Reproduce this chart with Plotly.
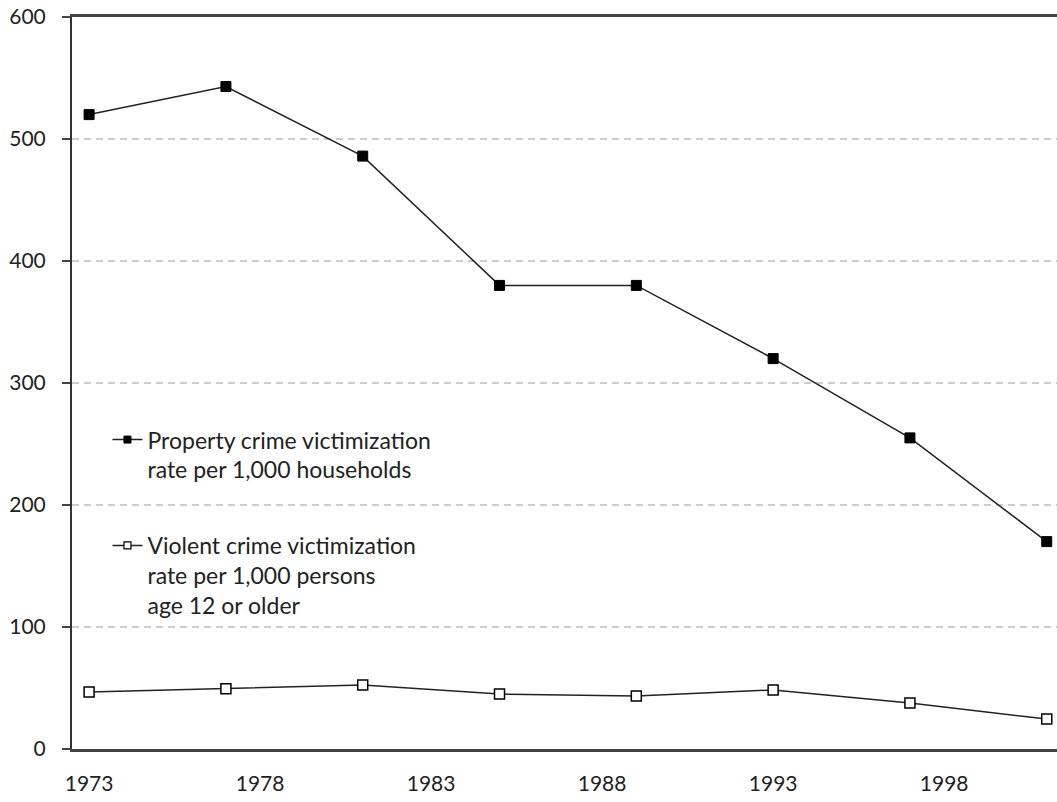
import plotly.graph_objects as go

years = [1973, 1977, 1981, 1985, 1989, 1993, 1997, 2001]
property_rate = [520, 543, 486, 380, 380, 320, 255, 170]
violent_rate = [46.7, 49.4, 52.5, 45, 43.4, 48.4, 37.7, 24.6]
tick_years = [1973, 1978, 1983, 1988, 1993, 1998]
y_ticks = [0, 100, 200, 300, 400, 500, 600]

property_name = "Property crime victimization<br>rate per 1,000 households"
violent_name = "Violent crime victimization<br>rate per 1,000 persons<br>age 12 or older"

FONT = "Lato"
LINE = dict(color="#222222", width=1.5)

fig = go.Figure()
fig.add_trace(go.Scatter(
    x=years, y=property_rate, name=property_name, mode="lines+markers",
    showlegend=False, cliponaxis=False, line=LINE,
    marker=dict(symbol="square", size=10, color="#000000",
                line=dict(color="#000000", width=1)),
))
fig.add_trace(go.Scatter(
    x=years, y=violent_rate, name=violent_name, mode="lines+markers",
    showlegend=False, cliponaxis=False, line=LINE,
    marker=dict(symbol="square", size=10, color="#ffffff",
                line=dict(color="#000000", width=1.5)),
))
# legend entries (smaller markers, as in the reference legend)
fig.add_trace(go.Scatter(
    x=[None], y=[None], name=property_name, mode="lines+markers",
    legendgroup="p", line=LINE,
    marker=dict(symbol="square", size=7, color="#000000",
                line=dict(color="#000000", width=1)),
))
fig.add_trace(go.Scatter(
    x=[None], y=[None], name=violent_name, mode="lines+markers",
    legendgroup="v", line=LINE,
    marker=dict(symbol="square", size=7, color="#ffffff",
                line=dict(color="#000000", width=1.2)),
))

fig.update_layout(
    width=1057, height=802,
    margin=dict(l=72, r=0, t=17, b=53),
    paper_bgcolor="white", plot_bgcolor="white",
    font=dict(family=FONT, size=21, color="#222222"),
    showlegend=True,
    legend=dict(
        x=0.036, y=0.452, xanchor="left", yanchor="top",
        bgcolor="rgba(0,0,0,0)", borderwidth=0,
        traceorder="grouped", tracegroupgap=43,
        valign="top", itemwidth=30,
        font=dict(family=FONT, size=23, color="#222222"),
    ),
    xaxis=dict(
        range=[1972.5, 2001.3],
        tickmode="array", tickvals=tick_years,
        ticktext=[str(t) for t in tick_years],
        showgrid=False, zeroline=False,
        showline=True, linecolor="#444444", linewidth=2.5, mirror=True,
        ticks="", ticklabelstandoff=14,
        tickfont=dict(family=FONT, size=21, color="#222222"),
    ),
    yaxis=dict(
        range=[0, 600],
        tickmode="array", tickvals=y_ticks,
        showgrid=True, gridcolor="#cccccc", gridwidth=2, griddash="7px,5px",
        zeroline=False,
        showline=True, linecolor="#333333", linewidth=2,
        ticks="outside", ticklen=8, tickcolor="#444444", tickwidth=2,
        ticklabelstandoff=12,
        tickfont=dict(family=FONT, size=21, color="#222222"),
    ),
)

fig.write_html("out.html", config={"displayModeBar": False},
               post_script="document.body.style.margin='0px';")
